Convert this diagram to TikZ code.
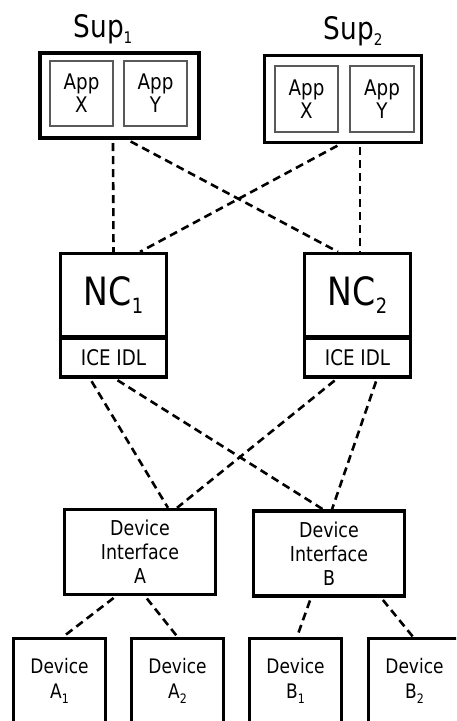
\documentclass[tikz,border=0pt]{standalone}
\usepackage{fontspec}
\setmainfont{DejaVu Sans}[FakeStretch=0.85]
\usetikzlibrary{calc}

% lowered, smaller index: \lowsub{drop}{size}{text}
\newcommand\lowsub[3]{\raisebox{-#1}{\fontsize{#2}{#2}\selectfont #3}}

\begin{document}
\begin{tikzpicture}[x=1pt,y=-1pt,
  supbox/.style={draw,line width=3.6pt,minimum width=159.5pt,minimum height=85.5pt,inner sep=0pt},
  appbox/.style={draw=black!65,line width=1.7pt,minimum width=63.5pt,minimum height=65.5pt,
    align=center,inner sep=0pt,font=\fontsize{21.5}{23}\selectfont},
  nctop/.style={draw,line width=3.3pt,minimum width=106pt,minimum height=83pt,inner sep=0pt,
    font=\fontsize{39}{39}\selectfont},
  ncbot/.style={draw,line width=3.3pt,minimum width=106pt,minimum height=39pt,inner sep=0pt,
    font=\fontsize{21.5}{21.5}\selectfont},
  dibox/.style={draw,line width=3.3pt,minimum width=151pt,minimum height=85pt,inner sep=0pt,
    align=center,font=\fontsize{20.5}{24}\selectfont},
  devbox/.style={draw,line width=3.3pt,minimum width=92pt,minimum height=85pt,inner sep=0pt,
    align=center,font=\fontsize{20}{25}\selectfont},
  suplabel/.style={anchor=base,inner sep=0pt,font=\fontsize{31}{31}\selectfont},
  link/.style={line width=2.6pt,dash pattern=on 8pt off 5pt,shorten <=3pt}]

\useasboundingbox (0,0) rectangle (456,721);
\clip (0,0) rectangle (456,721);

% supervisors with their apps
\node[supbox] (sup1) at (119.5,95.5) {};
\node[supbox,minimum width=157pt,minimum height=87pt] (sup2) at (343,99) {};
\node[suplabel] (sup1l) at (103,37) {Sup\lowsub{6pt}{16}{1}};
\node[suplabel] (sup2l) at (353,39) {Sup\lowsub{6pt}{16}{2}};
\node[appbox] (app1x) at (81.5,93.5) {App\\X};
\node[appbox] (app1y) at (155.5,93.5) {App\\Y};
\node[appbox] (app2x) at (306.5,99) {App\\X};
\node[appbox] (app2y) at (382,99) {App\\Y};

% network controllers
\node[nctop] (nc1) at (113.5,295) {NC\lowsub{8pt}{21}{1}};
\node[ncbot] (ice1) at (113.5,357.5) {ICE IDL};
\node[nctop] (nc2) at (357.5,295) {NC\lowsub{8pt}{21}{2}};
\node[ncbot] (ice2) at (357.5,357.5) {ICE IDL};

% device interfaces
\node[dibox] (dia) at (140,552) {Device\\Interface\\A};
\node[dibox] (dib) at (329,553.5) {Device\\Interface\\B};

% devices
\node[devbox] (a1) at (59.5,681) {Device\\A\lowsub{5pt}{13}{1}};
\node[devbox] (a2) at (177.5,681) {Device\\A\lowsub{5pt}{13}{2}};
\node[devbox] (b1) at (295.5,681) {Device\\B\lowsub{5pt}{13}{1}};
\node[devbox] (b2) at (414.5,681) {Device\\B\lowsub{5pt}{13}{2}};

% supervisor to controller links
\draw[link] ([xshift=-6.5pt]sup1.south) -- (nc1.north);
\draw[link] ([xshift=8.5pt]sup1.south) -- ([xshift=-19.5pt]nc2.north);
\draw[link] ([xshift=-3pt]sup2.south) -- ([xshift=26.5pt]nc1.north);
\draw[link] ([xshift=17pt]sup2.south) -- ([xshift=2.5pt]nc2.north);

% controller to interface links
\draw[link] ([xshift=-23.5pt]ice1.south) -- ([xshift=28pt]dia.north);
\draw[link] ([xshift=1.5pt]ice1.south) -- ([xshift=-6pt]dib.north);
\draw[link] ([xshift=-20.5pt]ice2.south) -- ([xshift=37pt]dia.north);
\draw[link] ([xshift=19.5pt]ice2.south) -- ([xshift=3pt]dib.north);

% interface to device links
\draw[link] ([xshift=-24pt]dia.south) -- ([xshift=3.5pt]a1.north);
\draw[link] ([xshift=5pt]dia.south) -- (a2.north);
\draw[link] ([xshift=-18pt]dib.south) -- ([xshift=1.5pt]b1.north);
\draw[link] ([xshift=52pt]dib.south) -- ([xshift=-1.5pt]b2.north);
\end{tikzpicture}
\end{document}
